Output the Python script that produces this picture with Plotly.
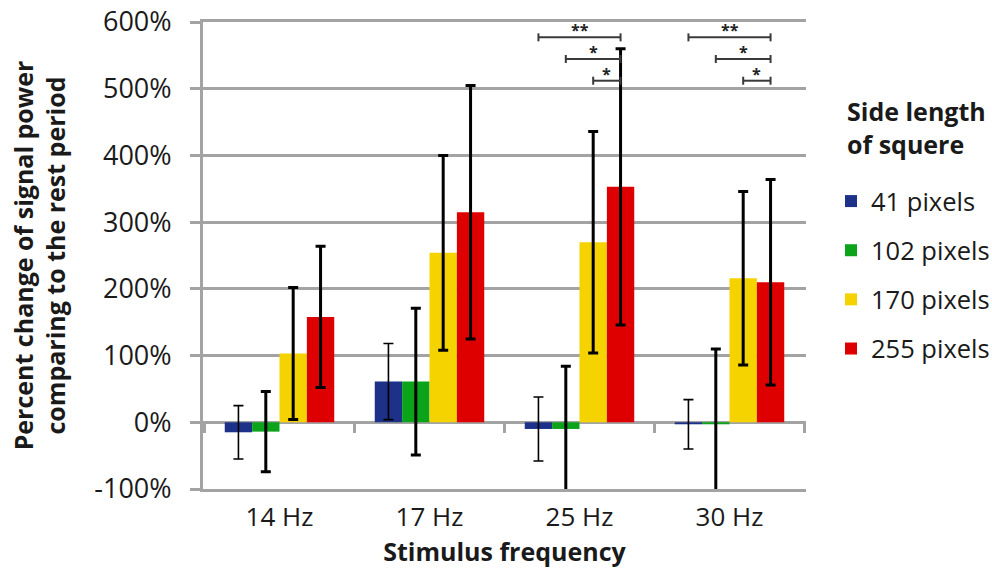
import plotly.graph_objects as go

# ---------------- data ----------------
categories = ["14 Hz", "17 Hz", "25 Hz", "30 Hz"]
series_names = ["41 pixels", "102 pixels", "170 pixels", "255 pixels"]

px41 = [-15, 61, -10, -3]
px41_err = [40, 57, 48, 37]
px102 = [-14, 61, -10, -3]
px102_err = [60, 110, 94, 113]
px170 = [103, 254, 270, 216]
px170_err = [99, 146, 166, 130]
px255 = [158, 315, 353, 210]
px255_err = [106, 190, 207, 154]

y_tick_values = [-100, 0, 100, 200, 300, 400, 500, 600]
y_tick_labels = ["-100%", "0%", "100%", "200%", "300%", "400%", "500%", "600%"]

legend_title = "Side length<br>of squere"

# significance comparisons: (category, series a, series b, label)
comparisons = [
    ("25 Hz", "41 pixels", "255 pixels", "**"),
    ("25 Hz", "102 pixels", "255 pixels", "*"),
    ("25 Hz", "170 pixels", "255 pixels", "*"),
    ("30 Hz", "41 pixels", "255 pixels", "**"),
    ("30 Hz", "102 pixels", "255 pixels", "*"),
    ("30 Hz", "170 pixels", "255 pixels", "*"),
]

# ---------------- style ----------------
W, H = 992, 568
ML, MR, MT, MB = 203, 186, 22, 79
colors = ["#1c3187", "#0aa31a", "#f4d300", "#de0000"]
err_thickness = [1.6, 3, 3, 3]
FONT = "Open Sans"
GRID = "#a3a3a3"
BARGAP = 0.27

def px_to_paper(px, py):
    return (px - ML) / (W - ML - MR), (H - MB - py) / (H - MT - MB)

values = [px41, px102, px170, px255]
errors = [px41_err, px102_err, px170_err, px255_err]

fig = go.Figure()
for i, name in enumerate(series_names):
    fig.add_trace(go.Bar(
        x=categories, y=values[i], name=name,
        marker=dict(color=colors[i], line=dict(width=0)),
        error_y=dict(type="data", array=errors[i], visible=True,
                     color="black", thickness=err_thickness[i], width=5),
        legendgroup=name,
    ))

# bracket geometry derived from grouped-bar layout
n = len(series_names)
bw = (1 - BARGAP) / n
def bar_center(cat, series):
    return categories.index(cat) - (1 - BARGAP) / 2 + (series_names.index(series) + 0.5) * bw

shapes = []
annotations = []
level_top, level_step, cap = 577, 32.5, 6
rank = {}
for cat, a, b, lab in comparisons:
    k = rank.get(cat, 0)
    rank[cat] = k + 1
    yl = level_top - k * level_step
    x0, x1 = bar_center(cat, a), bar_center(cat, b)
    lc = dict(color="#3a3a3a", width=2)
    shapes.append(dict(type="line", xref="x", yref="y", x0=x0, x1=x1, y0=yl, y1=yl, line=lc))
    for xx in (x0, x1):
        shapes.append(dict(type="line", xref="x", yref="y", x0=xx, x1=xx,
                           y0=yl - cap, y1=yl + cap, line=lc))
    annotations.append(dict(x=(x0 + x1) / 2, y=yl, xref="x", yref="y", text=lab,
                            showarrow=False, yanchor="bottom", yshift=-6,
                            font=dict(family=FONT, size=16, weight="bold", color="#222")))

# legend heading
tx, ty = px_to_paper(845, 92)
annotations.append(dict(xref="paper", yref="paper", x=tx, y=ty,
                        xanchor="left", yanchor="top", align="left", showarrow=False,
                        text=legend_title,
                        font=dict(family=FONT, size=25, weight="bold", color="#1a1a1a")))

# small category-boundary ticks on the 0% line
for k in range(len(categories) + 1):
    shapes.append(dict(type="line", xref="x", yref="y", x0=k - 0.5, x1=k - 0.5,
                       y0=0, y1=-16, line=dict(color=GRID, width=3)))

fig.update_layout(
    width=W, height=H,
    margin=dict(l=ML, r=MR, t=MT, b=MB, autoexpand=False),
    paper_bgcolor="white", plot_bgcolor="white",
    barmode="group", bargap=BARGAP, bargroupgap=0,
    font=dict(family=FONT, size=27, color="#1a1a1a"),
    shapes=shapes, annotations=annotations,
    legend=dict(
        xref="container", yref="container", x=831 / W, y=1 - 178 / H,
        xanchor="left", yanchor="top",
        font=dict(family=FONT, size=25.5),
        tracegroupgap=13, itemclick=False, bgcolor="rgba(0,0,0,0)",
    ),
    xaxis=dict(
        showgrid=False, ticks="", showline=True, mirror=True,
        linecolor=GRID, linewidth=3, automargin=False,
        ticklabelstandoff=3, tickfont=dict(size=26),
        title=dict(text="Stimulus frequency", standoff=7,
                   font=dict(family=FONT, size=25, weight="bold")),
    ),
    yaxis=dict(
        range=[-100, 600], tickvals=y_tick_values, ticktext=y_tick_labels,
        showgrid=True, gridcolor=GRID, gridwidth=3,
        zeroline=True, zerolinecolor=GRID, zerolinewidth=3,
        showline=True, linecolor=GRID, linewidth=3, automargin=False,
        ticks="outside", ticklen=10, tickwidth=3, tickcolor=GRID,
        ticklabelstandoff=13,
        title=dict(text="Percent change of signal power<br>comparing to the rest period",
                   standoff=22, font=dict(family=FONT, size=25, weight="bold")),
    ),
)

fig.write_html("out.html", config={"displayModeBar": False},
               post_script="document.body.style.margin='0';")
